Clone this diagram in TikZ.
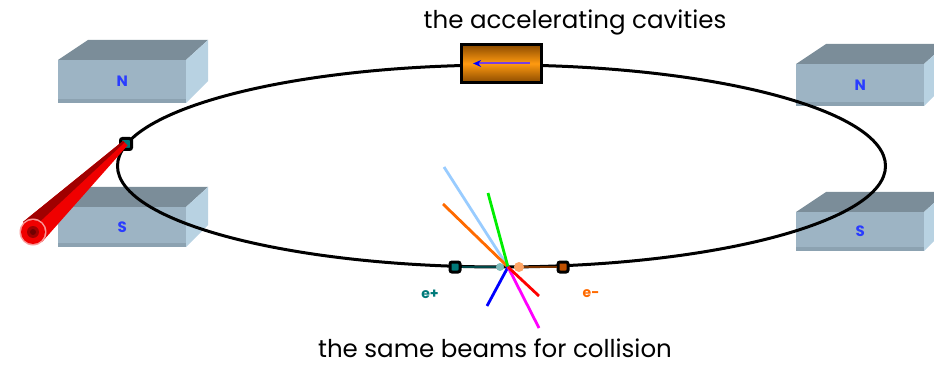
\documentclass[tikz,border=0pt]{standalone}
\usepackage{fontspec}
\setmainfont{Poppins}
\usetikzlibrary{arrows.meta}

\definecolor{magfront}{HTML}{9DB4C4}
\definecolor{magtop}{HTML}{7B8D99}
\definecolor{magside}{HTML}{B8D2E2}
\definecolor{magbase}{HTML}{8CA2B1}
\definecolor{poleblue}{HTML}{2A3CFF}
\definecolor{cavdark}{HTML}{8A4A00}
\definecolor{cavlight}{HTML}{FF9A10}
\definecolor{cavarrow}{HTML}{7A40E0}
\definecolor{posteal}{HTML}{007A7A}
\definecolor{posline}{HTML}{004848}
\definecolor{elebrown}{HTML}{C05000}
\definecolor{eleline}{HTML}{7A3300}
\definecolor{beamred}{HTML}{F00000}
\definecolor{beamdark}{HTML}{A00000}
\definecolor{raysky}{HTML}{99CCFF}
\definecolor{rayorange}{HTML}{FF6A00}
\definecolor{raygreen}{HTML}{00EE00}
\definecolor{raypink}{HTML}{FF00FF}

\tikzset{
  caption/.style={font=\fontsize{24.5}{24.5}\selectfont, inner sep=0pt},
  pole/.style={font=\bfseries\fontsize{15}{15}\selectfont, text=poleblue, inner sep=0pt},
  charge/.style={font=\bfseries\fontsize{14}{14}\selectfont, inner sep=0pt},
  ring/.style={line width=3pt, black},
  cavity/.style={draw=black, line width=2.8pt, minimum width=80pt, minimum height=38pt,
    inner sep=0pt, top color=cavdark, bottom color=cavdark, middle color=cavlight},
  dotbox/.style={draw=black, line width=3pt, minimum size=10pt, inner sep=0pt, rounded corners=2pt},
  ray/.style={line width=2.8pt},
}

% one pole piece: front face top-left (#1,#2), face height #3, node name #4, letter #5
\newcommand\magnetbox[5]{%
  \fill[magtop] (#1,#2) -- ++(30,-20) -- ++(120,0) -- ++(-22,20) -- cycle;
  \fill[magside] (#1+128,#2) -- ++(22,-20) -- ++(0,#3-2) -- ++(-22,22) -- cycle;
  \node[fill=magfront, minimum width=128pt, minimum height=#3 pt, inner sep=0pt,
        anchor=north west] (#4) at (#1,#2) {};
  \fill[magbase] (#1,#2+#3-4) rectangle (#1+128,#2+#3);
  \node[pole] at (#4.center) {#5};
}

\begin{document}
\begin{tikzpicture}[x=1pt,y=-1pt]
  \useasboundingbox (0,0) rectangle (934,366);

  % pole pieces of the bending magnets
  \magnetbox{58}{60}{43}{nleft}{N}
  \magnetbox{58}{207}{40}{sleft}{S}
  \magnetbox{796}{64}{42}{nright}{N}
  \magnetbox{796}{212}{39}{sright}{S}

  % storage ring
  \draw[ring] (501.5,166) ellipse [x radius=384, y radius=101];

  % accelerating cavity on top of the ring
  \node[cavity] (cav) at (501.5,63.5) {};
  \draw[cavarrow, line width=2pt, -{Stealth[length=8pt, width=7pt, color=blue, fill=blue]}]
    ([xshift=-13pt]cav.east) -- ([xshift=13pt]cav.west);
  \node[caption] (cavlabel) at (575,22) {the accelerating cavities};

  % injection point and incoming beam
  \node[dotbox, fill=posteal, minimum size=11pt] (inj) at (126,144) {};
  \coordinate (gun) at (33,232);
  \fill[beamred] (127.5,145.5) -- (123,141) -- (23,222) -- (42,242) -- cycle;
  \fill[beamdark] (124.5,142.5) -- (123,141) -- (23,222) -- (31,230) -- cycle;
  \fill[beamred!40] (gun) circle (13.5);
  \fill[beamred] (gun) circle (12);
  \fill[beamdark] (gun) circle (6);
  \fill[beamdark!70!black] (gun) circle (3);

  % colliding bunches
  \coordinate (hit) at (508,267);
  \node[dotbox, fill=posteal] (pos) at (455,267) {};
  \node[dotbox, fill=elebrown] (ele) at (563,267) {};
  \draw[posline, line width=2.8pt] (pos) -- (503,267);
  \draw[eleline, line width=2.8pt] (ele) -- (514,267);

  % secondary tracks from the collision
  \coordinate (t1) at (444,167);
  \coordinate (t2) at (443,204);
  \coordinate (t3) at (488,193);
  \coordinate (t4) at (487,306);
  \coordinate (t5) at (539,328);
  \coordinate (t6) at (539,296);
  \draw[ray, raysky] (hit) -- (t1);
  \draw[ray, rayorange] (hit) -- (t2);
  \draw[ray, raygreen] (hit) -- (t3);
  \draw[ray, blue] (hit) -- (t4);
  \draw[ray, raypink] (hit) -- (t5);
  \draw[ray, red] (hit) -- (t6);
  \fill[posteal!50] (500,267) circle (4);
  \fill[rayorange!60] (519,267) circle (5);

  \node[charge, text=posteal] (eplus) at (430,294) {e+};
  \node[charge, text=rayorange] (eminus) at (591,294) {e-};

  \node[caption] (collabel) at (495,348) {the same beams for collision};
\end{tikzpicture}
\end{document}
